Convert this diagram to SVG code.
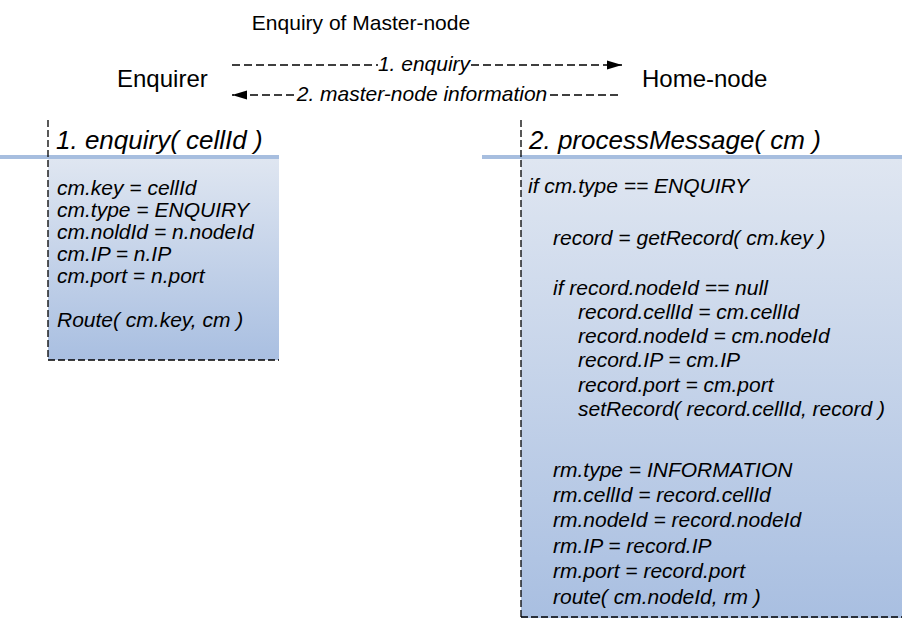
<svg xmlns="http://www.w3.org/2000/svg" width="902" height="619" viewBox="0 0 902 619">
  <defs>
    <linearGradient id="boxFill" x1="0" y1="0" x2="0" y2="1">
      <stop offset="0" stop-color="#dfe6f1"/>
      <stop offset="1" stop-color="#a9bfe1"/>
    </linearGradient>
    <marker id="arrowHead" viewBox="0 0 15 10" refX="15" refY="5" markerWidth="15" markerHeight="10" markerUnits="userSpaceOnUse" orient="auto">
      <path d="M0,0.5 L15,5 L0,9.5 Z" fill="#000"/>
    </marker>
    <style>
      text { font-family: "Liberation Sans", Arial, sans-serif; fill: #000; }
      .title { font-size: 21px; }
      .actor { font-size: 24px; }
      .msg { font-size: 21px; font-style: italic; }
      .head { font-size: 26px; font-style: italic; }
      .code { font-size: 21px; font-style: italic; }
      .dash { stroke: #000; stroke-width: 1.3; stroke-dasharray: 7 3; fill: none; }
      .msgline { stroke: #000; stroke-width: 1.3; stroke-dasharray: 8 4; fill: none; }
      .bar { stroke: #a7bedf; stroke-width: 4; }
    </style>
  </defs>

  <text class="title" x="361" y="30" text-anchor="middle">Enquiry of Master-node</text>

  <g id="enquirer">
    <text class="actor" x="117" y="87">Enquirer</text>
  </g>
  <g id="home-node">
    <text class="actor" x="642" y="87">Home-node</text>
  </g>

  <g id="connectors">
    <line class="msgline" x1="232" y1="65" x2="378" y2="65"/>
    <line class="msgline" x1="471" y1="65" x2="622" y2="65" marker-end="url(#arrowHead)"/>
    <text class="msg" x="424" y="71" text-anchor="middle">1. enquiry</text>
    <line class="msgline" x1="618" y1="95" x2="550" y2="95"/>
    <line class="msgline" x1="294" y1="95" x2="232" y2="95" marker-end="url(#arrowHead)"/>
    <text class="msg" x="422" y="101" text-anchor="middle">2. master-node information</text>
  </g>

  <g id="enquiry-activation">
    <rect x="48" y="159" width="231" height="201" fill="url(#boxFill)"/>
    <line class="bar" x1="0" y1="157" x2="279" y2="157"/>
    <line class="dash" x1="48" y1="120" x2="48" y2="360"/>
    <line class="dash" x1="48" y1="360" x2="279" y2="360"/>
    <text class="head" x="56" y="149">1. enquiry( cellId )</text>
    <text class="code" x="57" y="195">cm.key = cellId</text>
    <text class="code" x="57" y="217">cm.type = ENQUIRY</text>
    <text class="code" x="57" y="239">cm.noldId = n.nodeId</text>
    <text class="code" x="57" y="261">cm.IP = n.IP</text>
    <text class="code" x="57" y="283">cm.port = n.port</text>
    <text class="code" x="57" y="327">Route( cm.key, cm )</text>
  </g>

  <g id="process-activation">
    <rect x="521" y="159" width="381" height="459" fill="url(#boxFill)"/>
    <line class="bar" x1="482" y1="157" x2="902" y2="157"/>
    <line class="dash" x1="521" y1="120" x2="521" y2="617"/>
    <line class="dash" x1="521" y1="617" x2="902" y2="617"/>
    <text class="head" x="529" y="149">2. processMessage( cm )</text>
    <text class="code" x="528" y="193">if cm.type == ENQUIRY</text>
    <text class="code" x="553" y="245">record = getRecord( cm.key )</text>
    <text class="code" x="553" y="295">if record.nodeId == null</text>
    <text class="code" x="578" y="319">record.cellId = cm.cellId</text>
    <text class="code" x="578" y="343">record.nodeId = cm.nodeId</text>
    <text class="code" x="578" y="367">record.IP = cm.IP</text>
    <text class="code" x="578" y="392">record.port = cm.port</text>
    <text class="code" x="578" y="416">setRecord( record.cellId, record )</text>
    <text class="code" x="553" y="477">rm.type = INFORMATION</text>
    <text class="code" x="553" y="502">rm.cellId = record.cellId</text>
    <text class="code" x="553" y="527">rm.nodeId = record.nodeId</text>
    <text class="code" x="553" y="553">rm.IP = record.IP</text>
    <text class="code" x="553" y="578">rm.port = record.port</text>
    <text class="code" x="553" y="604">route( cm.nodeId, rm )</text>
  </g>
</svg>
